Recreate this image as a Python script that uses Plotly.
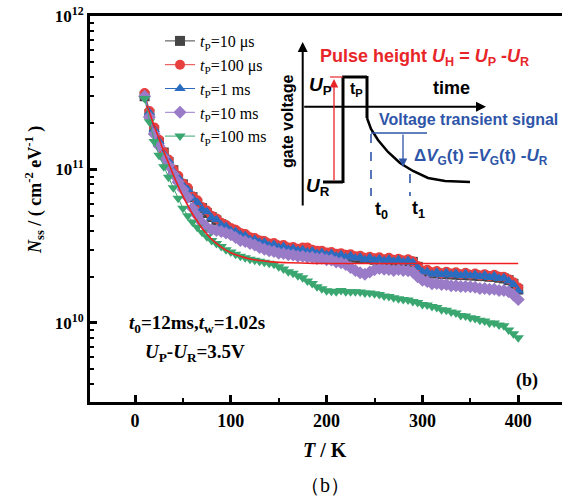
import plotly.graph_objects as go

# ---------------- data (values in units of 1e10 cm^-2 eV^-1) ----------------
T = list(range(10, 401, 5))

n_10us = [30.0, 23.0, 18.0, 15.0, 12.9, 11.2, 9.9, 8.7, 8.0, 7.2,
          6.6, 6.0, 5.6, 5.2, 4.9, 4.65, 4.4, 4.2, 4.05, 3.9,
          3.8, 3.65, 3.55, 3.45, 3.4, 3.3, 3.25, 3.2, 3.15, 3.1,
          3.05, 3.0, 2.98, 2.95, 2.92, 2.9, 2.86, 2.84, 2.8, 2.8,
          2.75, 2.74, 2.7, 2.7, 2.66, 2.65, 2.62, 2.62, 2.58, 2.58,
          2.56, 2.56, 2.54, 2.55, 2.52, 2.52, 2.5, 2.32, 2.18, 2.13,
          2.1, 2.11, 2.08, 2.09, 2.07, 2.07, 2.05, 2.06, 2.04, 2.04,
          2.02, 2.02, 2.0, 2.0, 1.97, 1.95, 1.9, 1.8, 1.65]

n_100us = [31.5, 24.0, 18.8, 15.6, 13.0, 11.6, 10.0, 9.1, 8.1, 7.6,
           6.7, 6.3, 5.7, 5.4, 5.0, 4.8, 4.5, 4.35, 4.15, 4.05,
           3.85, 3.8, 3.62, 3.58, 3.45, 3.42, 3.3, 3.32, 3.2, 3.22,
           3.1, 3.12, 3.05, 3.1, 3.1, 3.0, 2.95, 2.95, 2.88, 2.9,
           2.82, 2.85, 2.78, 2.8, 2.72, 2.74, 2.66, 2.7, 2.64, 2.68,
           2.6, 2.66, 2.58, 2.62, 2.55, 2.6, 2.52, 2.35, 2.2, 2.22,
           2.14, 2.18, 2.1, 2.16, 2.1, 2.14, 2.07, 2.12, 2.06, 2.1,
           2.04, 2.08, 2.02, 2.06, 2.0, 2.0, 1.93, 1.84, 1.7]

n_1ms = [30.5, 23.5, 18.2, 15.3, 12.6, 11.4, 9.7, 8.9, 7.9, 7.4,
         6.5, 6.1, 5.5, 5.3, 4.85, 4.7, 4.35, 4.25, 4.0, 3.95,
         3.75, 3.7, 3.5, 3.5, 3.35, 3.35, 3.2, 3.25, 3.1, 3.15,
         3.02, 3.06, 2.96, 3.0, 2.9, 2.94, 2.84, 2.88, 2.78, 2.83,
         2.72, 2.78, 2.68, 2.74, 2.64, 2.68, 2.58, 2.66, 2.56, 2.62,
         2.54, 2.6, 2.52, 2.58, 2.5, 2.55, 2.48, 2.3, 2.15, 2.16,
         2.08, 2.14, 2.06, 2.12, 2.05, 2.1, 2.03, 2.09, 2.02, 2.07,
         2.0, 2.05, 1.98, 2.03, 1.95, 1.97, 1.88, 1.78, 1.62]

n_10ms = [30.0, 22.0, 17.0, 14.2, 12.0, 10.6, 9.3, 8.3, 7.4, 6.6,
          5.6, 5.0, 4.5, 4.2, 4.05, 4.0, 3.95, 3.85, 3.75, 3.6,
          3.45, 3.4, 3.3, 3.22, 3.1, 3.02, 2.95, 2.92, 2.85, 2.84,
          2.78, 2.77, 2.72, 2.72, 2.68, 2.68, 2.63, 2.64, 2.58, 2.57,
          2.5, 2.47, 2.4, 2.3, 2.2, 2.12, 2.08, 2.15, 2.22, 2.26,
          2.24, 2.23, 2.2, 2.23, 2.2, 2.19, 2.15, 2.0, 1.9, 1.86,
          1.8, 1.81, 1.78, 1.78, 1.75, 1.75, 1.73, 1.73, 1.72, 1.71,
          1.68, 1.68, 1.66, 1.66, 1.63, 1.63, 1.6, 1.52, 1.42]

n_100ms = [29.0, 20.5, 15.2, 12.4, 10.4, 8.9, 7.6, 6.5, 5.6, 5.0,
           4.55, 4.2, 3.9, 3.65, 3.45, 3.3, 3.15, 3.0, 2.9, 2.8,
           2.72, 2.66, 2.6, 2.56, 2.52, 2.49, 2.45, 2.41, 2.32, 2.25,
           2.16, 2.11, 2.03, 1.97, 1.88, 1.81, 1.72, 1.67, 1.62, 1.61,
           1.6, 1.63, 1.6, 1.6, 1.6, 1.59, 1.57, 1.57, 1.55, 1.53,
           1.5, 1.49, 1.46, 1.44, 1.42, 1.41, 1.38, 1.36, 1.32, 1.31,
           1.28, 1.26, 1.22, 1.21, 1.18, 1.16, 1.12, 1.11, 1.08, 1.07,
           1.04, 1.03, 1.0, 1.0, 0.97, 0.96, 0.9, 0.85, 0.8]

fit_T = [12, 15, 20, 25, 30, 35, 40, 45, 50, 55, 60, 65, 70, 75, 80, 85, 90,
         95, 100, 110, 120, 130, 140, 150, 160, 180, 200, 250, 300, 350, 400]
fit_N = [26.1, 23.6, 19.2, 15.9, 13.1, 11.0, 9.2, 7.8, 6.7, 5.85, 5.13, 4.6,
         4.14, 3.8, 3.51, 3.3, 3.12, 2.98, 2.87, 2.72, 2.61, 2.55, 2.51, 2.48,
         2.47, 2.45, 2.44, 2.44, 2.44, 2.44, 2.44]

series_names = ["<i>t</i><sub>P</sub>=10 \u03bcs", "<i>t</i><sub>P</sub>=100 \u03bcs",
                "<i>t</i><sub>P</sub>=1 ms", "<i>t</i><sub>P</sub>=10 ms",
                "<i>t</i><sub>P</sub>=100 ms"]
series_vals = [n_10us, n_100us, n_1ms, n_10ms, n_100ms]
series_colors = ["#454545", "#e8403f", "#2a6cc0", "#9a7bc8", "#3aa670"]
series_symbols = ["square", "circle", "triangle-up", "diamond", "triangle-down"]

SCALE = 1e10

fig = go.Figure()
for name, vals, col, sym in zip(series_names, series_vals, series_colors, series_symbols):
    fig.add_trace(go.Scatter(
        x=T, y=[v * SCALE for v in vals], mode="lines+markers", name=name,
        line=dict(color=col, width=1),
        marker=dict(symbol=sym, size=10, color=col),
    ))
fig.add_trace(go.Scatter(
    x=fit_T, y=[v * SCALE for v in fit_N], mode="lines", showlegend=False,
    line=dict(color="#f02020", width=1.6, shape="spline"),
))

# ---------------- layout helpers ----------------
W, H = 562, 501
L, R, TOP, B = 90, 0, 16, 99
PW, PH = W - L - R, H - TOP - B


def px(x):
    return (x - L) / PW


def py(y):
    return (H - B - y) / PH


serif = "Liberation Serif"
sans = "Liberation Sans"
RED = "#e8262a"
BLUE = "#2e55a8"

shapes = []


def seg(x0, y0, x1, y1, color="black", width=3, dash="solid"):
    shapes.append(dict(type="line", xref="paper", yref="paper",
                       x0=px(x0), y0=py(y0), x1=px(x1), y1=py(y1),
                       line=dict(color=color, width=width, dash=dash)))


# pulse waveform
seg(323, 182, 343, 182)
seg(343, 183, 343, 77)
seg(342, 77, 367, 77)
seg(367, 76, 367, 118)
curve = [(367, 118), (371, 129), (378, 140), (388, 152), (400, 163), (413, 171),
         (428, 178), (445, 181), (470, 182)]
path = "M " + " L ".join(f"{px(a):.5f},{py(b):.5f}" for a, b in curve)
shapes.append(dict(type="path", xref="paper", yref="paper", path=path,
                   line=dict(color="black", width=2.5)))
# red marker of pulse height
seg(330, 77, 343, 77, color=RED, width=1.2)
# blue guide and dashed lines
seg(371, 133, 427, 133, color=BLUE, width=1.3)
seg(371, 134, 371, 196, color=BLUE, width=1.6, dash="dash")
seg(410, 174, 410, 196, color=BLUE, width=1.6, dash="dash")

annotations = []


def arrow(xh, yh, xt, yt, color="black", width=2, head=2, size=1.0):
    annotations.append(dict(xref="paper", yref="paper", x=px(xh), y=py(yh),
                            axref="pixel", ayref="pixel", ax=xt - xh, ay=yt - yh,
                            text="", showarrow=True, arrowhead=head, arrowsize=size,
                            arrowwidth=width, arrowcolor=color))


arrow(302.7, 42, 302.7, 207, width=2)
arrow(486, 106.7, 302.7, 106.7, width=2)
arrow(334, 79, 334, 182, color=RED, width=1.3, head=2, size=1.3)
arrow(403, 167, 403, 133, color=BLUE, width=1.3, head=2, size=1.3)


def text(x, y, s, size, color="black", family=sans, angle=0, xanchor="center"):
    annotations.append(dict(xref="paper", yref="paper", x=px(x), y=py(y), text=s,
                            showarrow=False, textangle=angle, xanchor=xanchor,
                            yanchor="middle", font=dict(size=size, color=color, family=family)))


text(424, 57, "<b>Pulse height <i>U</i><sub>H</sub> = <i>U</i><sub>P</sub> -<i>U</i><sub>R</sub></b>", 18, RED)
text(320, 86, "<b><i>U</i><sub>P</sub></b>", 19)
text(356, 89, "<b>t<sub>P</sub></b>", 16)
text(451, 88, "<b>time</b>", 18)
text(288, 122, "<b>gate voltage</b>", 16, angle=-90)
text(468, 120, "<b>Voltage transient signal</b>", 16, BLUE)
text(481, 157, "<b>\u0394<i>V</i><sub>G</sub>(t) =<i>V</i><sub>G</sub>(t) -<i>U</i><sub>R</sub></b>", 17, BLUE)
text(318, 187, "<b><i>U</i><sub>R</sub></b>", 19)
text(381, 210, "<b>t<sub>0</sub></b>", 18)
text(418, 209, "<b>t<sub>1</sub></b>", 18)

# chart annotations
text(127, 324, "<b><i>t</i><sub>0</sub>=12ms,<i>t</i><sub>w</sub>=1.02s</b>", 19, family=serif, xanchor="left")
text(143, 353, "<b><i>U</i><sub>P</sub>-<i>U</i><sub>R</sub>=3.5V</b>", 19, family=serif, xanchor="left")
text(527, 380, "<b>(b)</b>", 18, family=serif)
text(325, 450, "<b><i>T</i> / K</b>", 20, family=serif)
text(34, 190, "<b><i>N</i><sub>ss</sub> / ( cm<sup>-2</sup> eV<sup>-1</sup> )</b>", 18, family=serif, angle=-90)
text(325, 485, "\uff08b\uff09", 20, family=serif)

ytickvals = [1e10, 1e11, 1e12]
yticktext = ["<b>10<sup>10</sup></b>", "<b>10<sup>11</sup></b>", "<b>10<sup>12</sup></b>"]
yminor = [m * 10 ** e for e in (9, 10, 11) for m in range(2, 10)]
xtickvals = [0, 100, 200, 300, 400]
xticktext = [f"<b>{v}</b>" for v in xtickvals]

fig.update_layout(
    width=W, height=H,
    margin=dict(l=L, r=R, t=TOP, b=B, autoexpand=False),
    paper_bgcolor="white", plot_bgcolor="white",
    showlegend=True,
    legend=dict(x=px(160), y=py(24), xanchor="left", yanchor="top",
                bgcolor="rgba(0,0,0,0)", font=dict(family=serif, size=16, color="black"),
                itemwidth=30, tracegroupgap=0),
    xaxis=dict(range=[-47, 445.7], showgrid=False, zeroline=False,
               showline=True, linecolor="black", linewidth=3, mirror=True,
               ticks="inside", ticklen=7, tickwidth=2.5, tickcolor="black",
               tickvals=xtickvals, ticktext=xticktext,
               tickfont=dict(family=serif, size=18, color="black"),
               minor=dict(ticks="inside", ticklen=4, tickwidth=2, tickcolor="black",
                          tickvals=[-50, 50, 150, 250, 350], showgrid=False)),
    yaxis=dict(type="log", range=[9.485, 12.0], showgrid=False, zeroline=False,
               showline=True, linecolor="black", linewidth=3, mirror=False,
               ticks="inside", ticklen=7, tickwidth=2.5, tickcolor="black",
               tickvals=ytickvals, ticktext=yticktext,
               tickfont=dict(family=serif, size=17, color="black"),
               minor=dict(ticks="inside", ticklen=4, tickwidth=2, tickcolor="black",
                          tickvals=yminor, showgrid=False)),
    shapes=shapes, annotations=annotations,
)

fig.write_html("out.html")
